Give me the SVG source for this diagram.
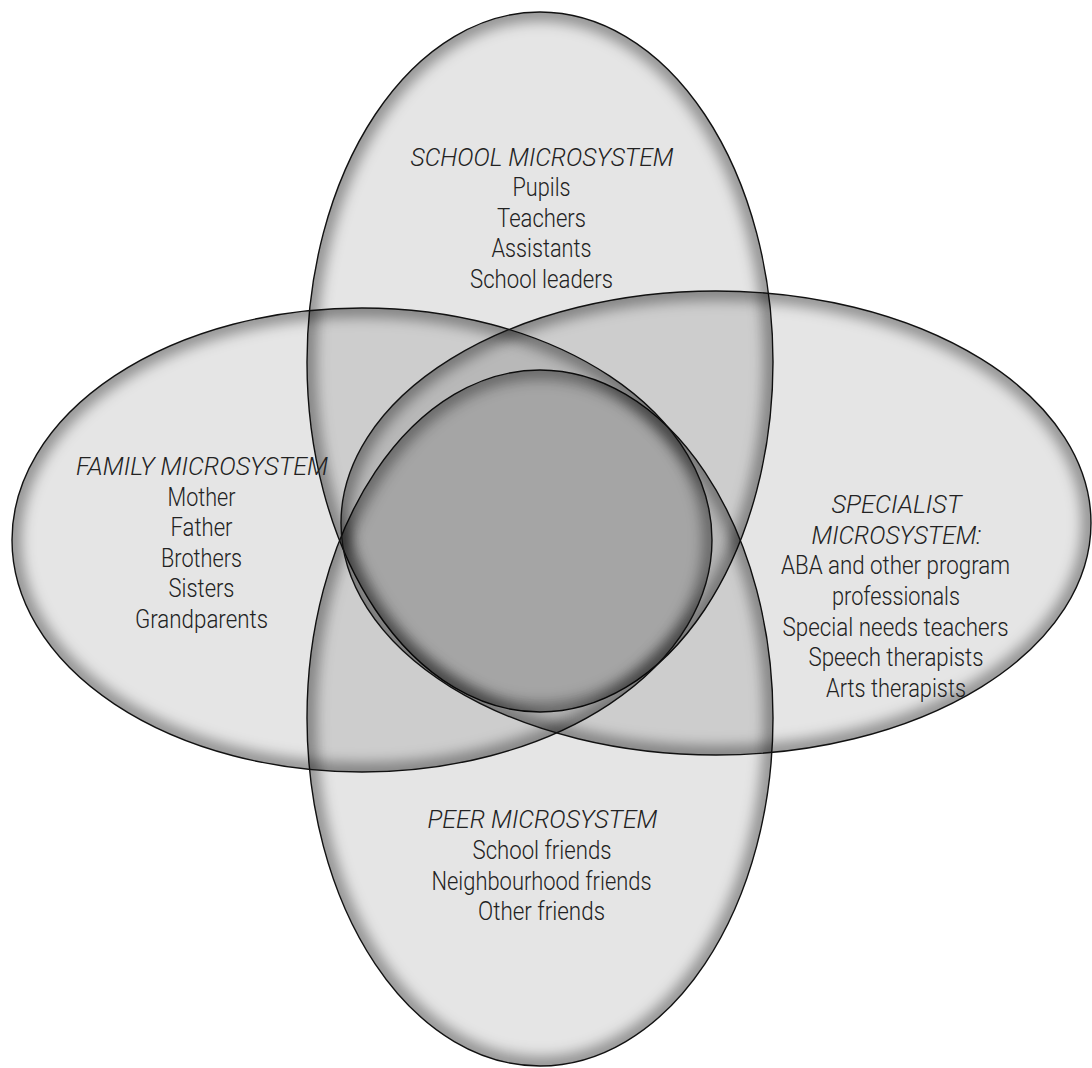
<svg xmlns="http://www.w3.org/2000/svg" width="1092" height="1068" viewBox="0 0 1092 1068">
<style>
.fill{fill:#000;fill-opacity:0.1;stroke:none}
.ring{fill:none;stroke:#000;stroke-opacity:0.38;stroke-width:18}
.edge{fill:none;stroke:#111;stroke-width:1.4}
text{font-family:Roboto,"Liberation Sans",sans-serif;font-weight:300;font-size:26px;fill:#222;text-anchor:middle}
.t{font-style:italic}
</style>
<defs>
<filter id="soft" x="-10%" y="-10%" width="120%" height="120%"><feGaussianBlur stdDeviation="7"/></filter>
<clipPath id="c-school"><ellipse cx="540" cy="362" rx="233" ry="350"/></clipPath>
<clipPath id="c-peer"><ellipse cx="540" cy="718" rx="233" ry="348"/></clipPath>
<clipPath id="c-family"><ellipse cx="362" cy="540" rx="350" ry="232"/></clipPath>
<clipPath id="c-spec"><ellipse cx="716" cy="523" rx="375" ry="232"/></clipPath>
</defs>
<rect width="1092" height="1068" fill="#fff"/>
<g id="school">
<ellipse class="fill" cx="540" cy="362" rx="233" ry="350"/>
<g clip-path="url(#c-school)"><ellipse class="ring" cx="540" cy="362" rx="233" ry="350" filter="url(#soft)"/></g>
<ellipse class="edge" cx="540" cy="362" rx="233" ry="350"/>
</g>
<g id="peer">
<ellipse class="fill" cx="540" cy="718" rx="233" ry="348"/>
<g clip-path="url(#c-peer)"><ellipse class="ring" cx="540" cy="718" rx="233" ry="348" filter="url(#soft)"/></g>
<ellipse class="edge" cx="540" cy="718" rx="233" ry="348"/>
</g>
<g id="family">
<ellipse class="fill" cx="362" cy="540" rx="350" ry="232"/>
<g clip-path="url(#c-family)"><ellipse class="ring" cx="362" cy="540" rx="350" ry="232" filter="url(#soft)"/></g>
<ellipse class="edge" cx="362" cy="540" rx="350" ry="232"/>
</g>
<g id="specialist">
<ellipse class="fill" cx="716" cy="523" rx="375" ry="232"/>
<g clip-path="url(#c-spec)"><ellipse class="ring" cx="716" cy="523" rx="375" ry="232" filter="url(#soft)"/></g>
<ellipse class="edge" cx="716" cy="523" rx="375" ry="232"/>
</g>
<g id="connectors"></g>
<g id="school-label">
<text class="t" x="542" y="165.7" textLength="263" lengthAdjust="spacingAndGlyphs">SCHOOL MICROSYSTEM</text>
<text x="541.5" y="196.2" textLength="58" lengthAdjust="spacingAndGlyphs">Pupils</text>
<text x="541.5" y="226.7" textLength="89" lengthAdjust="spacingAndGlyphs">Teachers</text>
<text x="541.5" y="257.2" textLength="100" lengthAdjust="spacingAndGlyphs">Assistants</text>
<text x="541.5" y="287.7" textLength="143" lengthAdjust="spacingAndGlyphs">School leaders</text>
</g>
<g id="family-label">
<text class="t" x="202" y="475" textLength="252" lengthAdjust="spacingAndGlyphs">FAMILY MICROSYSTEM</text>
<text x="201.5" y="505.5" textLength="68" lengthAdjust="spacingAndGlyphs">Mother</text>
<text x="201.5" y="536" textLength="62" lengthAdjust="spacingAndGlyphs">Father</text>
<text x="201.5" y="566.5" textLength="81" lengthAdjust="spacingAndGlyphs">Brothers</text>
<text x="201.5" y="597" textLength="66" lengthAdjust="spacingAndGlyphs">Sisters</text>
<text x="201.5" y="627.5" textLength="133" lengthAdjust="spacingAndGlyphs">Grandparents</text>
</g>
<g id="specialist-label">
<text class="t" x="896.5" y="513.3" textLength="130" lengthAdjust="spacingAndGlyphs">SPECIALIST</text>
<text class="t" x="896.5" y="544" textLength="170" lengthAdjust="spacingAndGlyphs">MICROSYSTEM:</text>
<text x="895.5" y="574.4" textLength="229" lengthAdjust="spacingAndGlyphs">ABA and other program</text>
<text x="896" y="604.9" textLength="128" lengthAdjust="spacingAndGlyphs">professionals</text>
<text x="895.5" y="635.5" textLength="226" lengthAdjust="spacingAndGlyphs">Special needs teachers</text>
<text x="896" y="665.9" textLength="175" lengthAdjust="spacingAndGlyphs">Speech therapists</text>
<text x="896" y="696.5" textLength="140" lengthAdjust="spacingAndGlyphs">Arts therapists</text>
</g>
<g id="peer-label">
<text class="t" x="542.5" y="828.4" textLength="230" lengthAdjust="spacingAndGlyphs">PEER MICROSYSTEM</text>
<text x="542" y="859" textLength="139" lengthAdjust="spacingAndGlyphs">School friends</text>
<text x="541.5" y="889.6" textLength="220" lengthAdjust="spacingAndGlyphs">Neighbourhood friends</text>
<text x="541.5" y="920" textLength="127" lengthAdjust="spacingAndGlyphs">Other friends</text>
</g>
</svg>
